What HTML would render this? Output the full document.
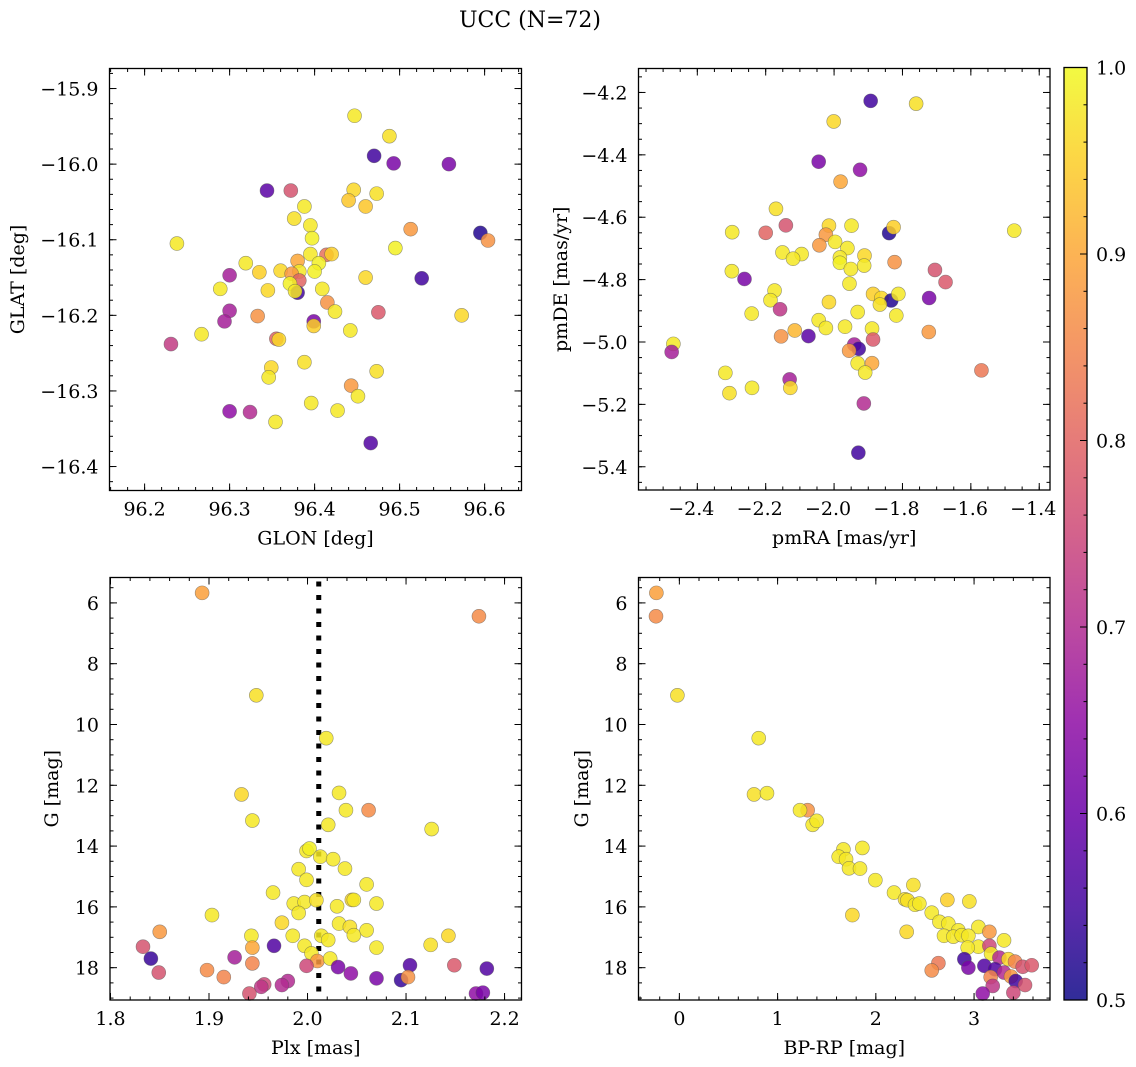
<!DOCTYPE html>
<html><head><meta charset="utf-8"><style>
html,body{margin:0;padding:0;background:#fff;}
svg{display:block;font-family:"DejaVu Serif","Liberation Serif",serif;}
</style></head><body>
<svg id="fig" width="1136" height="1067" viewBox="0 0 1136 1067" xmlns="http://www.w3.org/2000/svg">
<defs><linearGradient id="plasma" x1="0" y1="1" x2="0" y2="0">
<stop offset="0" stop-color="#0d0887"/><stop offset="0.1" stop-color="#41049d"/><stop offset="0.2" stop-color="#6a00a8"/><stop offset="0.3" stop-color="#8f0da4"/><stop offset="0.4" stop-color="#b12a90"/><stop offset="0.5" stop-color="#cc4778"/><stop offset="0.6" stop-color="#e16462"/><stop offset="0.7" stop-color="#f2844b"/><stop offset="0.8" stop-color="#fca636"/><stop offset="0.9" stop-color="#fcce25"/><stop offset="1" stop-color="#f0f921"/></linearGradient></defs>
<text x="530" y="27" font-size="22" text-anchor="middle">UCC (N=72)</text>
</svg>
<script>
// ---- Panel 1 data: GLON / GLAT ----
const p1x=[96.447,96.488,96.470,96.493,96.558,96.344,96.372,96.446,96.440,96.473,96.460,96.388,96.376,96.395,96.397,96.513,96.595,96.604,96.238,96.495,96.395,96.414,96.420,96.380,96.405,96.319,96.335,96.360,96.300,96.400,96.382,96.373,96.382,96.460,96.526,96.371,96.289,96.345,96.409,96.380,96.377,96.415,96.424,96.475,96.300,96.573,96.333,96.294,96.399,96.399,96.442,96.267,96.231,96.355,96.358,96.388,96.349,96.346,96.473,96.443,96.451,96.396,96.300,96.324,96.427,96.354,96.466];
const p1y=[-15.936,-15.963,-15.989,-15.999,-16.000,-16.035,-16.035,-16.034,-16.048,-16.039,-16.056,-16.056,-16.072,-16.081,-16.098,-16.086,-16.091,-16.101,-16.105,-16.111,-16.119,-16.120,-16.119,-16.128,-16.131,-16.131,-16.143,-16.141,-16.147,-16.142,-16.142,-16.145,-16.154,-16.150,-16.151,-16.158,-16.165,-16.167,-16.165,-16.170,-16.168,-16.183,-16.195,-16.196,-16.194,-16.200,-16.201,-16.208,-16.208,-16.214,-16.220,-16.225,-16.238,-16.231,-16.232,-16.262,-16.269,-16.282,-16.274,-16.293,-16.307,-16.316,-16.327,-16.328,-16.326,-16.341,-16.369];
const p1c=[0.98,0.97,0.55,0.62,0.62,0.58,0.77,0.96,0.94,0.97,0.94,0.98,0.97,0.98,0.99,0.88,0.52,0.87,0.98,0.99,0.98,0.82,0.95,0.90,0.99,0.98,0.95,0.96,0.68,0.99,0.98,0.88,0.80,0.96,0.55,0.99,0.98,0.96,0.98,0.55,0.98,0.87,0.98,0.78,0.68,0.96,0.87,0.68,0.62,0.95,0.98,0.98,0.73,0.80,0.96,0.97,0.96,0.98,0.97,0.88,0.98,0.98,0.65,0.70,0.98,0.98,0.57];
// ---- Panel 2 data: pmRA / pmDE ----
const p2x=[-1.893,-1.760,-2.001,-2.045,-1.924,-1.981,-2.170,-2.141,-2.200,-2.298,-2.015,-2.024,-1.949,-1.839,-1.826,-1.473,-2.043,-1.997,-1.961,-2.151,-2.095,-2.120,-1.983,-1.911,-1.983,-1.912,-1.951,-1.823,-2.299,-1.705,-2.262,-1.674,-1.955,-2.174,-2.186,-1.886,-1.862,-1.833,-1.812,-1.866,-1.722,-2.015,-2.158,-2.241,-1.931,-1.818,-2.045,-2.024,-1.968,-1.889,-2.115,-2.155,-2.075,-1.723,-1.886,-2.470,-2.475,-1.941,-1.928,-1.956,-1.931,-1.889,-1.909,-2.318,-1.569,-2.130,-2.128,-2.240,-2.306,-1.913,-1.929];
const p2y=[-4.227,-4.236,-4.293,-4.422,-4.448,-4.486,-4.573,-4.626,-4.650,-4.648,-4.627,-4.656,-4.627,-4.651,-4.632,-4.643,-4.690,-4.679,-4.699,-4.713,-4.718,-4.733,-4.729,-4.723,-4.746,-4.755,-4.766,-4.744,-4.773,-4.769,-4.798,-4.808,-4.813,-4.835,-4.866,-4.846,-4.859,-4.867,-4.846,-4.880,-4.859,-4.872,-4.895,-4.909,-4.904,-4.915,-4.930,-4.955,-4.951,-4.957,-4.963,-4.982,-4.981,-4.968,-4.992,-5.006,-5.032,-5.008,-5.022,-5.028,-5.068,-5.068,-5.098,-5.099,-5.091,-5.120,-5.147,-5.147,-5.164,-5.197,-5.355];
const p2c=[0.55,0.97,0.96,0.62,0.65,0.90,0.97,0.77,0.80,0.98,0.96,0.88,0.98,0.52,0.95,0.98,0.88,0.98,0.98,0.98,0.98,0.98,0.98,0.96,0.99,0.98,0.98,0.87,0.98,0.77,0.62,0.78,0.98,0.98,0.98,0.95,0.96,0.52,0.98,0.97,0.62,0.96,0.72,0.98,0.98,0.98,0.98,0.98,0.98,0.98,0.92,0.87,0.58,0.88,0.78,0.98,0.68,0.68,0.55,0.88,0.98,0.90,0.98,0.98,0.83,0.68,0.96,0.98,0.97,0.70,0.55];
// ---- Panel 3 data: Plx / G ----
const p3x=[1.893,2.174,1.948,2.019,1.933,2.032,2.039,2.062,1.944,2.021,2.126,1.999,2.002,2.013,2.026,2.038,1.991,1.999,2.060,1.965,1.986,1.997,2.009,2.045,2.047,2.070,2.030,1.991,1.903,1.974,2.032,2.043,2.047,2.060,1.850,1.943,1.985,2.014,2.021,2.143,2.125,1.997,2.070,1.833,1.944,1.966,2.004,2.010,2.023,1.841,1.926,1.944,1.999,2.031,2.104,2.149,2.182,1.849,1.898,2.044,1.915,2.070,2.095,2.102,1.980,1.974,1.956,1.953,1.941,2.171,2.178];
const p3y=[5.67,6.44,9.04,10.45,12.30,12.25,12.82,12.82,13.16,13.30,13.44,14.16,14.08,14.35,14.43,14.74,14.76,15.11,15.26,15.53,15.89,15.84,15.78,15.77,15.77,15.89,15.98,16.20,16.27,16.52,16.55,16.66,16.93,16.77,16.82,16.95,16.95,16.95,17.09,16.95,17.25,17.28,17.34,17.31,17.34,17.28,17.53,17.78,17.70,17.70,17.66,17.86,17.94,17.98,17.92,17.92,18.03,18.16,18.08,18.19,18.31,18.35,18.41,18.31,18.44,18.57,18.55,18.63,18.85,18.85,18.82];
const p3c=[0.89,0.86,0.97,0.98,0.96,0.98,0.98,0.86,0.98,0.98,0.98,0.98,0.99,0.98,0.98,0.98,0.98,0.98,0.98,0.98,0.98,0.98,0.97,0.96,0.98,0.98,0.98,0.98,0.98,0.96,0.98,0.97,0.98,0.98,0.88,0.98,0.98,0.98,0.98,0.96,0.97,0.98,0.98,0.77,0.90,0.57,0.98,0.88,0.98,0.54,0.68,0.85,0.75,0.62,0.57,0.78,0.57,0.77,0.86,0.65,0.85,0.62,0.54,0.87,0.70,0.70,0.75,0.72,0.77,0.65,0.62];
const plxLine=[2.0114];
// ---- Panel 4 data: BP-RP / G ----
const p4x=[-0.234,-0.238,-0.020,0.808,0.760,0.892,1.306,1.228,1.357,1.398,1.670,1.863,1.622,1.697,1.727,1.839,1.995,2.382,2.185,2.297,2.321,2.399,2.443,2.728,2.952,1.761,2.569,2.647,2.738,2.840,3.044,3.156,2.314,2.694,2.789,2.874,2.942,3.305,3.044,2.935,3.156,3.173,3.258,3.349,3.417,2.901,2.637,2.569,2.942,3.105,3.213,3.305,3.495,3.587,3.169,3.376,3.424,3.190,3.519,3.088,3.400];
const p4y=[5.67,6.44,9.04,10.45,12.30,12.26,12.82,12.82,13.30,13.17,14.11,14.06,14.35,14.43,14.73,14.74,15.12,15.28,15.53,15.75,15.78,15.93,15.89,15.77,15.82,16.27,16.19,16.49,16.55,16.77,16.66,16.82,16.82,16.95,16.98,16.93,16.95,17.10,17.31,17.34,17.28,17.54,17.67,17.72,17.80,17.72,17.85,18.09,18.00,17.94,18.05,18.16,17.97,17.92,18.31,18.29,18.44,18.60,18.57,18.85,18.82];
const p4c=[0.89,0.86,0.97,0.98,0.97,0.98,0.87,0.98,0.98,0.98,0.98,0.98,0.98,0.98,0.98,0.98,0.98,0.97,0.98,0.97,0.97,0.98,0.98,0.95,0.97,0.96,0.98,0.98,0.98,0.98,0.98,0.88,0.96,0.98,0.98,0.98,0.98,0.98,0.98,0.98,0.75,0.98,0.70,0.96,0.85,0.55,0.83,0.86,0.62,0.57,0.57,0.70,0.77,0.78,0.85,0.88,0.55,0.72,0.77,0.65,0.75];
const cbTicks=[0.5,0.6,0.7,0.8,0.9,1.0];

const NS='http://www.w3.org/2000/svg';
const svg=document.getElementById('fig');
const FS=19;
const stops=[[13,8,135],[65,4,157],[106,0,168],[143,13,164],[177,42,144],[204,71,120],[225,100,98],[242,132,75],[252,166,54],[252,206,37],[240,249,33]];
function cmap(v){let t=(v-0.5)/0.5;t=Math.max(0,Math.min(1,t));const f=t*10,i=Math.min(9,Math.floor(f)),r=f-i;const a=stops[i],b=stops[i+1];return 'rgb('+a.map((x,k)=>Math.round(x+(b[k]-x)*r)).join(',')+')';}
function el(tag,attrs,parent){const e=document.createElementNS(NS,tag);for(const k in attrs)e.setAttribute(k,attrs[k]);(parent||svg).appendChild(e);return e;}
function fmt(v,d){const s=Math.abs(v).toFixed(d);return (v<-1e-9?'\u2212':'')+s;}

function panel(cfg){
  const g=el('g',{});
  
  
  const L=cfg.box[0],T=cfg.box[1],R=cfg.box[2],B=cfg.box[3];
  const sx=v=>L+(v-cfg.xr[0])/(cfg.xr[1]-cfg.xr[0])*(R-L);
  const sy=v=>T+(v-cfg.yr[0])/(cfg.yr[1]-cfg.yr[0])*(B-T);
  const lo=Math.min(cfg.yr[0],cfg.yr[1]),hi=Math.max(cfg.yr[0],cfg.yr[1]);
  if(cfg.vline){for(const v of cfg.vline){const ln=el('line',{x1:sx(v),x2:sx(v),y1:T+4,y2:B,stroke:'#000','stroke-width':5,'stroke-dasharray':'5,8.5'},g);
    
    }}
  for(let i=0;i<cfg.x.length;i++){
    const c=el('circle',{cx:sx(cfg.x[i]),cy:sy(cfg.y[i]),r:7,fill:cmap(cfg.c[i]),'fill-opacity':0.85,stroke:'#555','stroke-opacity':0.6,'stroke-width':0.6},g);
    
    
  }
  const fr=el('rect',{x:L,y:T,width:R-L,height:B-T,fill:'none',stroke:'#000','stroke-width':1.3},g);
  
  
  const eps=1e-9;
  function ticksX(step,len){const s=Math.ceil(cfg.xr[0]/step-eps);for(let k=s;k*step<=cfg.xr[1]+eps;k++){const x=sx(k*step);el('line',{x1:x,x2:x,y1:B,y2:B-len,stroke:'#000','stroke-width':1},g);el('line',{x1:x,x2:x,y1:T,y2:T+len,stroke:'#000','stroke-width':1},g);}}
  function ticksY(step,len){const s=Math.ceil(lo/step-eps);for(let k=s;k*step<=hi+eps;k++){const y=sy(k*step);el('line',{x1:L,x2:L+len,y1:y,y2:y,stroke:'#000','stroke-width':1},g);el('line',{x1:R,x2:R-len,y1:y,y2:y,stroke:'#000','stroke-width':1},g);}}
  ticksX(cfg.xmin,3.5);ticksX(cfg.xmaj,7);ticksY(cfg.ymin,3.5);ticksY(cfg.ymaj,7);
  for(const v of cfg.xt){const t=el('text',{x:sx(v)-(v<0?6:0),y:B+25,'font-size':FS,'text-anchor':'middle'},g);t.textContent=fmt(v,cfg.xd);
    
    }
  for(const v of cfg.yt){const t=el('text',{x:L-11,y:sy(v)+7,'font-size':FS,'text-anchor':'end'},g);t.textContent=fmt(v,cfg.yd);
    
    }
  const xt=el('text',{x:(L+R)/2,y:B+54,'font-size':FS,'text-anchor':'middle'},g);xt.textContent=cfg.xl;
  
  
  const yx=cfg.ylx,yy=(T+B)/2;
  const yt=el('text',{x:yx,y:yy,'font-size':FS,'text-anchor':'middle',transform:'rotate(-90 '+yx+' '+yy+')'},g);yt.textContent=cfg.yl;
  
  
}

panel({name:'glon-glat-panel',box:[109.5,68.5,521.5,490.5],xr:[96.1587,96.6434],yr:[-15.8735,-16.4317],x:p1x,y:p1y,c:p1c,
 xmaj:0.1,xmin:0.02,ymaj:0.1,ymin:0.02,xt:[96.2,96.3,96.4,96.5,96.6],xd:1,yt:[-15.9,-16.0,-16.1,-16.2,-16.3,-16.4],yd:1,xl:'GLON [deg]',yl:'GLAT [deg]',ylx:24});
panel({name:'proper-motion-panel',box:[638.5,68.5,1050,490],xr:[-2.572,-1.3685],yr:[-4.1232,-5.4745],x:p2x,y:p2y,c:p2c,
 xmaj:0.2,xmin:0.05,ymaj:0.2,ymin:0.05,xt:[-2.4,-2.2,-2.0,-1.8,-1.6,-1.4],xd:1,yt:[-4.2,-4.4,-4.6,-4.8,-5.0,-5.2,-5.4],yd:1,xl:'pmRA [mas/yr]',yl:'pmDE [mas/yr]',ylx:567});
panel({name:'parallax-magnitude-panel',box:[110,577.5,521.5,1000],xr:[1.7995,2.2172],yr:[5.1645,19.063],x:p3x,y:p3y,c:p3c,vline:plxLine,
 xmaj:0.1,xmin:0.02,ymaj:2,ymin:0.5,xt:[1.8,1.9,2.0,2.1,2.2],xd:1,yt:[6,8,10,12,14,16,18],yd:0,xl:'Plx [mas]',yl:'G [mag]',ylx:58});
panel({name:'color-magnitude-panel',box:[638.5,577.5,1050,1000],xr:[-0.416,3.773],yr:[5.1645,19.063],x:p4x,y:p4y,c:p4c,
 xmaj:1,xmin:0.2,ymaj:2,ymin:0.5,xt:[0,1,2,3],xd:0,yt:[6,8,10,12,14,16,18],yd:0,xl:'BP-RP [mag]',yl:'G [mag]',ylx:588});

const cb=el('g',{});


const cT=67.5,cB=1000,cL=1064,cR=1087;
el('rect',{x:cL,y:cT,width:cR-cL,height:cB-cT,fill:'url(#plasma)','fill-opacity':0.85},cb);
el('rect',{x:cL,y:cT,width:cR-cL,height:cB-cT,fill:'none',stroke:'#000','stroke-width':1.3},cb);
const cy=v=>cB-(v-0.5)/0.5*(cB-cT);
for(let k=25;k<=50;k++){const v=k*0.02,y=cy(v),len=(k%5===0)?7:3.5;el('line',{x1:cR,x2:cR-len,y1:y,y2:y,stroke:'#000','stroke-width':1},cb);}
for(const v of cbTicks){const t=el('text',{x:cR+9,y:cy(v)+7,'font-size':FS},cb);t.textContent=v.toFixed(1);
  
  }
</script>
</body></html>
